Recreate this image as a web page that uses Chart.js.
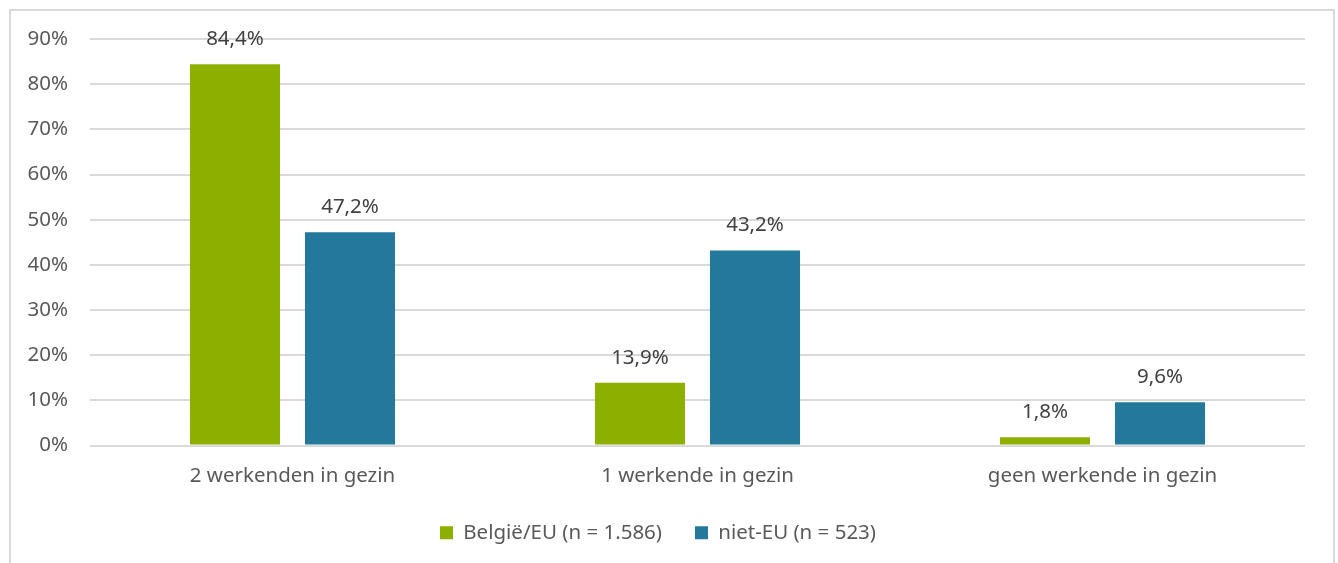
<!DOCTYPE html>
<html>
<head>
<meta charset="utf-8">
<script src="https://cdn.jsdelivr.net/npm/chart.js@4"></script>
<style>
  html, body { margin: 0; padding: 0; background: #fff; overflow: hidden; }
  #frame {
    position: absolute; left: 9px; top: 9px;
    width: 1322px; height: 560px;
    border: 2px solid #d9d9d9; border-bottom: none;
  }
  canvas { display: block; }
</style>
</head>
<body>
<div id="frame"><canvas id="gezinChart" width="1322" height="552"></canvas></div>
<script>
// data
const categories = ["2 werkenden in gezin", "1 werkende in gezin", "geen werkende in gezin"];
const seriesNames = ["België/EU (n = 1.586)", "niet-EU (n = 523)"];
const belgieEU = [84.4, 13.9, 1.8];
const nietEU = [47.2, 43.2, 9.6];
const yTicks = [0, 10, 20, 30, 40, 50, 60, 70, 80, 90];

const FONT = "'Noto Sans', sans-serif";
const SIZE = 20.5;

// value labels on top of bars
const valueLabels = {
  id: "valueLabels",
  afterDatasetsDraw(chart) {
    const ctx = chart.ctx;
    ctx.save();
    ctx.fillStyle = "#404040";
    ctx.font = SIZE + "px " + FONT;
    ctx.textAlign = "center";
    ctx.textBaseline = "alphabetic";
    chart.data.datasets.forEach((ds, i) => {
      chart.getDatasetMeta(i).data.forEach((bar, j) => {
        const txt = ds.data[j].toFixed(1).replace(".", ",") + "%";
        ctx.fillText(txt, bar.x, bar.y - 19);
      });
    });
    ctx.restore();
  }
};

const gezinCtx = document.getElementById("gezinChart").getContext("2d");
const gezinChart = new Chart(gezinCtx, {
  type: "bar",
  data: {
    labels: categories,
    datasets: [
      {
        label: seriesNames[0],
        data: belgieEU,
        backgroundColor: "#8db000",
      },
      {
        label: seriesNames[1],
        data: nietEU,
        backgroundColor: "#23789b",
      },
    ],
  },
  options: {
    responsive: false,
    animation: false,
    categoryPercentage: 0.568,
    barPercentage: 0.783,
    layout: { padding: { top: 28, right: 28, left: 0, bottom: 10 } },
    plugins: {
      tooltip: { enabled: false },
      legend: {
        position: "bottom",
        labels: {
          boxWidth: 13,
          boxHeight: 13,
          padding: 33,
          color: "#595959",
          font: { family: FONT, size: SIZE },
        },
      },
    },
    scales: {
      x: {
        grid: { display: false, drawTicks: false },
        border: { display: false },
        ticks: { color: "#595959", font: { family: FONT, size: SIZE }, padding: 18 },
        afterFit: (s) => { s.height = 44; },
      },
      y: {
        min: 0,
        max: 90,
        afterBuildTicks: (s) => { s.ticks = yTicks.map((v) => ({ value: v })); },
        afterFit: (s) => { s.width = 79; s.paddingTop = 0; s.paddingBottom = 0; },
        grid: { color: "#d9d9d9", lineWidth: 2, drawTicks: false },
        border: { display: false },
        ticks: {
          color: "#595959",
          font: { family: FONT, size: SIZE },
          padding: 22,
          callback: (v) => v + "%",
        },
      },
    },
  },
  plugins: [valueLabels],
});
</script>
</body>
</html>
